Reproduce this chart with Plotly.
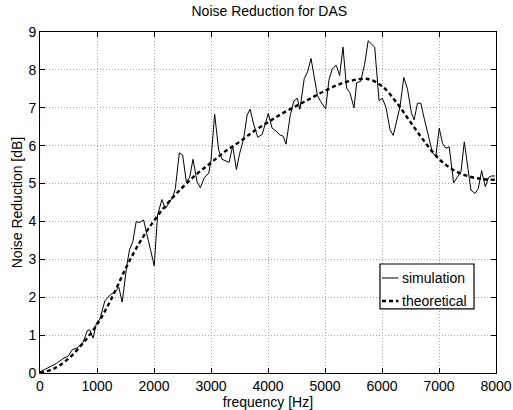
import plotly.graph_objects as go

sim_freq = [0, 141, 287, 404, 492, 568, 639, 698, 756, 832, 873, 932, 990, 1050, 1137, 1225,
            1342, 1383, 1442, 1524, 1570, 1629, 1688, 1746, 1817, 1905, 2004, 2063, 2139, 2198,
            2333, 2374, 2444, 2503, 2567, 2625, 2684, 2755, 2813, 2884, 2960, 3000, 3064, 3135,
            3194, 3317, 3381, 3446, 3504, 3575, 3634, 3686, 3751, 3821, 3898, 4005, 4073, 4140,
            4208, 4267, 4316, 4390, 4454, 4513, 4560, 4636, 4695, 4755, 4868, 4923, 5011, 5070,
            5128, 5198, 5257, 5316, 5378, 5436, 5509, 5556, 5626, 5696, 5758, 5872, 5948, 6007,
            6070, 6141, 6197, 6265, 6317, 6382, 6447, 6515, 6563, 6623, 6681, 6740, 6810, 6887,
            6945, 7004, 7062, 7121, 7179, 7257, 7327, 7385, 7444, 7502, 7560, 7631, 7690, 7748,
            7812, 7871, 7924, 7982]
sim_vals = [0.03, 0.14, 0.25, 0.38, 0.44, 0.62, 0.65, 0.72, 0.81, 1.12, 1.14, 0.92, 1.32, 1.42,
            1.90, 2.05, 2.18, 2.26, 1.87, 2.85, 3.25, 3.47, 4.00, 3.97, 4.04, 3.47, 2.83, 4.17,
            4.58, 4.34, 4.65, 4.87, 5.81, 5.75, 5.05, 5.16, 5.64, 5.05, 4.89, 5.16, 5.27, 5.62,
            6.83, 5.88, 5.64, 5.56, 5.99, 5.37, 5.80, 6.20, 6.81, 6.96, 6.55, 6.22, 6.30, 6.85,
            6.46, 6.39, 6.28, 6.25, 6.04, 6.80, 7.18, 7.25, 6.96, 7.77, 7.95, 8.30, 7.32, 7.17,
            6.97, 7.74, 8.03, 8.12, 7.85, 8.60, 7.52, 7.40, 7.00, 7.66, 7.70, 8.15, 8.77, 8.60,
            7.19, 7.25, 7.01, 6.42, 6.27, 6.70, 7.04, 7.80, 7.50, 6.87, 6.68, 7.12, 7.12, 6.72,
            6.28, 5.81, 5.73, 6.46, 6.06, 5.93, 5.97, 5.02, 5.18, 5.31, 6.10, 5.44, 4.83, 4.74,
            4.87, 5.34, 4.92, 5.16, 5.20, 5.20]

theo_freq = [0, 250, 500, 750, 1000, 1250, 1500, 1750, 2000, 2250, 2500, 2750, 3000, 3250,
             3500, 3750, 4000, 4250, 4500, 4750, 5000, 5250, 5500, 5750, 6000, 6250, 6500,
             6750, 7000, 7250, 7500, 7750, 8000]
theo_vals = [0.0, 0.12, 0.38, 0.78, 1.28, 1.95, 2.75, 3.45, 4.02, 4.5, 4.9, 5.25, 5.55, 5.85,
             6.1, 6.38, 6.62, 6.85, 7.05, 7.25, 7.45, 7.62, 7.73, 7.76, 7.57, 7.15, 6.62,
             6.1, 5.65, 5.36, 5.2, 5.12, 5.1]

x_ticks = [0, 1000, 2000, 3000, 4000, 5000, 6000, 7000, 8000]
y_ticks = [0, 1, 2, 3, 4, 5, 6, 7, 8, 9]
legend_names = ["simulation", "theoretical"]

FAM = "Liberation Sans, Arial, Helvetica, sans-serif"
font = dict(family=FAM, size=14, color="black")
sim_line = dict(color="black", width=1)
theo_line = dict(color="black", width=2.4, dash="4px,3px")

fig = go.Figure()
fig.add_trace(go.Scatter(x=sim_freq, y=sim_vals, mode="lines", name=legend_names[0],
                         line=sim_line, showlegend=False))
fig.add_trace(go.Scatter(x=theo_freq, y=theo_vals, mode="lines", name=legend_names[1],
                         line=dict(theo_line, shape="spline"), showlegend=False))

axis_common = dict(showline=True, linecolor="black", linewidth=1, mirror="ticks",
                   ticks="inside", ticklen=5, tickcolor="black", showgrid=True,
                   gridcolor="#a8a8a8", griddash="1px,2px", gridwidth=1, zeroline=False,
                   tickfont=font, automargin=False)
fig.update_xaxes(range=[0, 8000], tickvals=x_ticks, ticklabelstandoff=0,
                 title=dict(text="frequency [Hz]", font=font, standoff=0), **axis_common)
fig.update_yaxes(range=[0, 9], tickvals=y_ticks, ticklabelstandoff=0,
                 title=dict(text="Noise Reduction [dB]", font=font, standoff=2), **axis_common)

# custom legend box (paper coordinates)
lx0, lx1, ly0, ly1 = 0.7456, 0.9518, 0.188, 0.3196
fig.add_shape(type="rect", xref="paper", yref="paper", x0=lx0, x1=lx1, y0=ly0, y1=ly1,
              line=dict(color="black", width=1.2), fillcolor="white", layer="above")
rows_y = [0.2786, 0.2111]
for name, yy, ln in zip(legend_names, rows_y, [sim_line, theo_line]):
    fig.add_shape(type="line", xref="paper", yref="paper", x0=0.750, x1=0.786, y0=yy, y1=yy,
                  line=ln, layer="above")
    fig.add_annotation(text=name, xref="paper", yref="paper", x=0.789, y=yy,
                       xanchor="left", yanchor="middle", showarrow=False, font=font)

fig.update_layout(
    width=513, height=410,
    margin=dict(l=40, r=17, t=32, b=37),
    paper_bgcolor="white", plot_bgcolor="white",
    font=font,
    title=dict(text="Noise Reduction for DAS", x=0.525, xanchor="center", y=0.985, yanchor="top",
               font=font),
    showlegend=False,
)
fig.write_html("out.html")
